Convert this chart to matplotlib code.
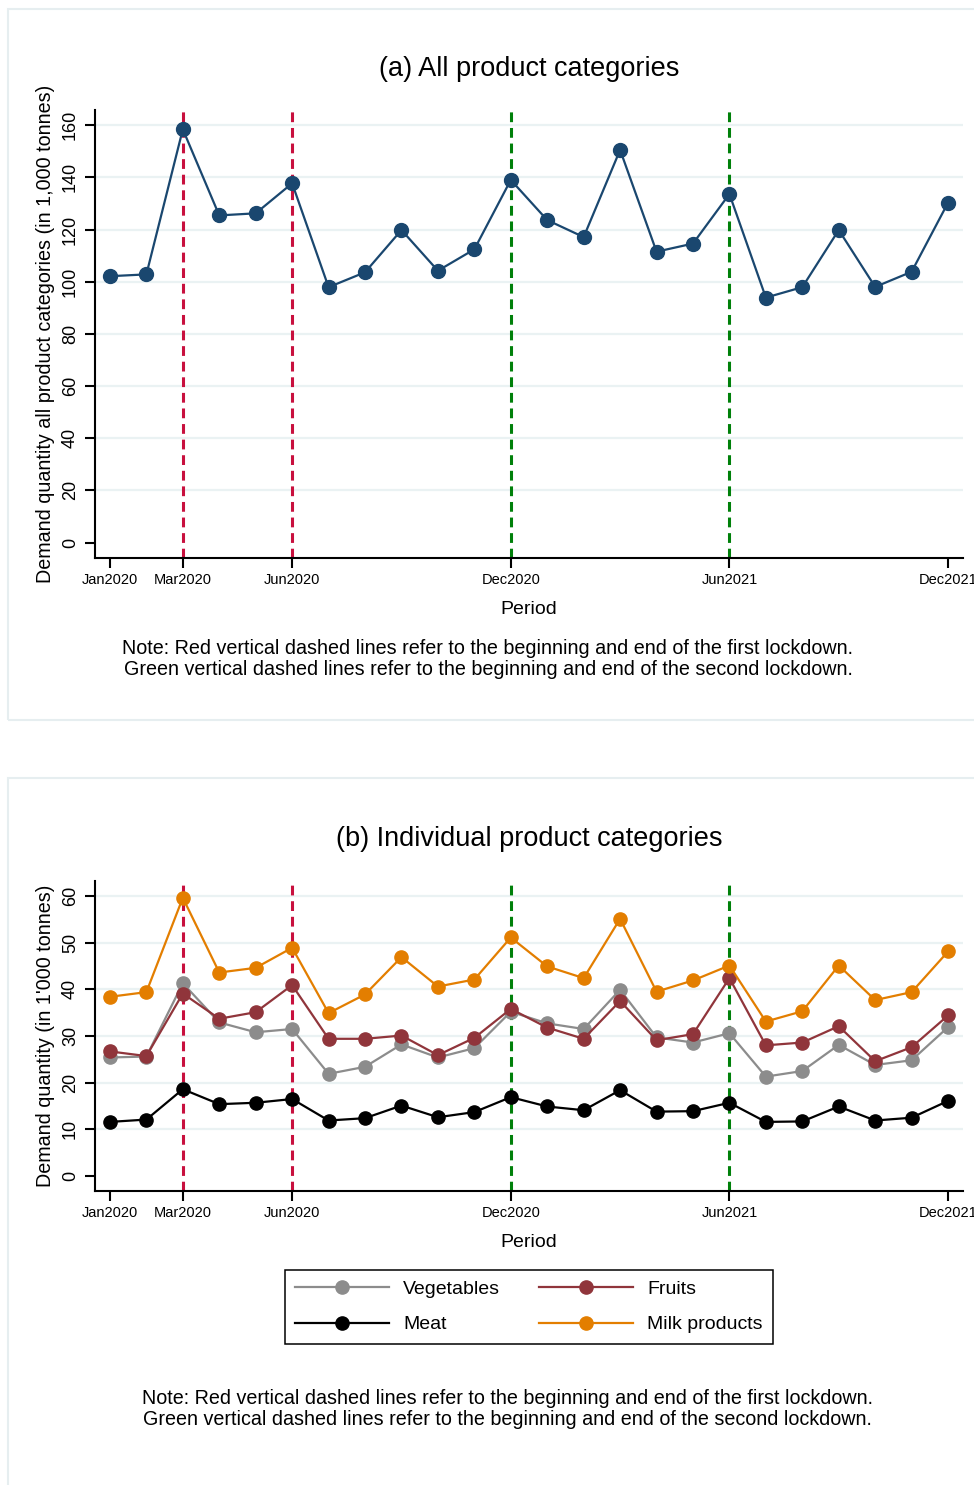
import matplotlib
matplotlib.use("Agg")
import matplotlib.pyplot as plt
from matplotlib.patches import Rectangle

plt.rcParams['font.family'] = ['Liberation Sans', 'DejaVu Sans']

months = ["Jan2020", "Feb2020", "Mar2020", "Apr2020", "May2020", "Jun2020",
          "Jul2020", "Aug2020", "Sep2020", "Oct2020", "Nov2020", "Dec2020",
          "Jan2021", "Feb2021", "Mar2021", "Apr2021", "May2021", "Jun2021",
          "Jul2021", "Aug2021", "Sep2021", "Oct2021", "Nov2021", "Dec2021"]

total = [102.1, 102.8, 158.4, 125.4, 126.2, 137.7, 97.9, 103.6, 119.8, 104.2, 112.4, 139.0,
         123.6, 117.1, 150.5, 111.5, 114.6, 133.6, 93.9, 97.9, 119.8, 98.0, 103.8, 130.3]

vegetables = [25.4, 25.6, 41.3, 32.9, 30.8, 31.5, 21.9, 23.4, 28.2, 25.4, 27.4, 35.2,
              32.7, 31.5, 39.9, 29.7, 28.6, 30.6, 21.3, 22.5, 28.1, 23.8, 24.8, 31.9]
fruits = [26.7, 25.7, 39.1, 33.7, 35.1, 40.9, 29.4, 29.4, 30.1, 25.9, 29.6, 35.8,
          31.8, 29.4, 37.5, 29.1, 30.4, 42.4, 28.0, 28.6, 32.1, 24.6, 27.6, 34.4]
meat = [11.6, 12.1, 18.6, 15.4, 15.7, 16.5, 11.9, 12.4, 15.1, 12.6, 13.7, 16.9,
        14.9, 14.1, 18.4, 13.8, 13.9, 15.7, 11.6, 11.7, 14.9, 11.9, 12.5, 16.1]
milk = [38.4, 39.4, 59.6, 43.6, 44.6, 48.9, 34.9, 38.9, 46.9, 40.6, 42.1, 51.1,
        44.9, 42.4, 55.1, 39.5, 41.9, 45.1, 33.1, 35.3, 45.1, 37.7, 39.4, 48.1]

tick_labels = ["Jan2020", "Mar2020", "Jun2020", "Dec2020", "Jun2021", "Dec2021"]
first_lockdown = ["Mar2020", "Jun2020"]
second_lockdown = ["Dec2020", "Jun2021"]

note = ("Note: Red vertical dashed lines refer to the beginning and end of the first lockdown.\n"
        "Green vertical dashed lines refer to the beginning and end of the second lockdown.")

W, H = 974, 1485
fig = plt.figure(figsize=(W / 100, H / 100), dpi=100)
fig.patch.set_facecolor('white')

def fy(p):
    return 1 - p / H

def fx(p):
    return p / W

border_col = '#E6EEF0'
fig.patches.append(Rectangle((fx(8), fy(720)), fx(990) - fx(8), fy(9) - fy(720),
                             transform=fig.transFigure, fill=False, ec=border_col, lw=1.5))
fig.patches.append(Rectangle((fx(8), fy(1500)), fx(990) - fx(8), fy(778) - fy(1500),
                             transform=fig.transFigure, fill=False, ec=border_col, lw=1.5))

x = list(range(len(months)))
tick_pos = [months.index(t) for t in tick_labels]
grid_col = '#EAF2F3'
red = '#C8103E'
green = '#00800A'

def style_axes(ax, yticks, ylim):
    ax.set_xlim(-0.41, 23.41)
    ax.set_ylim(*ylim)
    for s in ['top', 'right']:
        ax.spines[s].set_visible(False)
    for s in ['left', 'bottom']:
        ax.spines[s].set_linewidth(1.5)
        ax.spines[s].set_color('black')
    ax.set_yticks(yticks)
    ax.set_yticklabels([str(v) for v in yticks], rotation=90, va='center', fontsize=13)
    ax.tick_params(axis='y', length=7.5, width=1.5, pad=4)
    ax.set_xticks(tick_pos)
    ax.set_xticklabels(tick_labels, fontsize=10.5)
    ax.tick_params(axis='x', length=7, width=1.5, pad=4)
    for v in yticks[1:]:
        ax.axhline(v, color=grid_col, lw=1.6, zorder=0)
    for m in first_lockdown:
        ax.axvline(months.index(m), color=red, lw=2.2, dashes=(3.2, 1.9), zorder=1)
    for m in second_lockdown:
        ax.axvline(months.index(m), color=green, lw=2.2, dashes=(3.2, 1.9), zorder=1)
    ax.set_xlabel("Period", fontsize=14)

# Panel (a)
axa = fig.add_axes([fx(95), fy(558), fx(963) - fx(95), fy(110) - fy(558)])
style_axes(axa, [0, 20, 40, 60, 80, 100, 120, 140, 160], (-5.9, 165.8))
axa.plot(x, total, color='#1A476F', lw=1.6, marker='o', ms=10, zorder=3)
axa.set_ylabel("Demand quantity all product categories (in 1,000 tonnes)", fontsize=14.2)
axa.yaxis.set_label_coords((55 - 95) / 868, 0.5)
axa.xaxis.set_label_coords(0.5, -(601 - 558) / 448)
fig.text(fx(529), fy(69), "(a) All product categories", ha='center', va='center', fontsize=19.5)
fig.text(fx(488), fy(659), note, ha='center', va='center', fontsize=14.2, linespacing=1.08,
         multialignment='center')

# Panel (b)
axb = fig.add_axes([fx(95), fy(1191), fx(963) - fx(95), fy(881) - fy(1191)])
style_axes(axb, [0, 10, 20, 30, 40, 50, 60], (-3.2, 63.2))
series = [("Vegetables", vegetables, '#8C8C8C'),
          ("Fruits", fruits, '#90353B'),
          ("Meat", meat, '#000000'),
          ("Milk products", milk, '#E37E00')]
handles = {}
for name, vals, col in series:
    h, = axb.plot(x, vals, color=col, lw=1.6, marker='o', ms=9.5, zorder=3, label=name)
    handles[name] = h
axb.set_ylabel("Demand quantity (in 1'000 tonnes)", fontsize=14.2)
axb.yaxis.set_label_coords((55 - 95) / 868, 0.5)
axb.xaxis.set_label_coords(0.5, -(1234 - 1191) / 310)
fig.text(fx(529), fy(839), "(b) Individual product categories", ha='center', va='center', fontsize=19.5)
fig.text(fx(507), fy(1409), note, ha='center', va='center', fontsize=14.2, linespacing=1.08,
         multialignment='center')

order = ["Vegetables", "Meat", "Fruits", "Milk products"]
leg = fig.legend([handles[n] for n in order], order, loc='center',
                 bbox_to_anchor=(fx(529), fy(1307)), ncol=2, fontsize=14,
                 handlelength=4.8, handletextpad=0.75, columnspacing=2.0,
                 labelspacing=0.9, borderpad=0.55, numpoints=1, fancybox=False,
                 framealpha=1, edgecolor='black')
leg.get_frame().set_linewidth(1.1)

fig.savefig("out.png", dpi=100, facecolor='white')
